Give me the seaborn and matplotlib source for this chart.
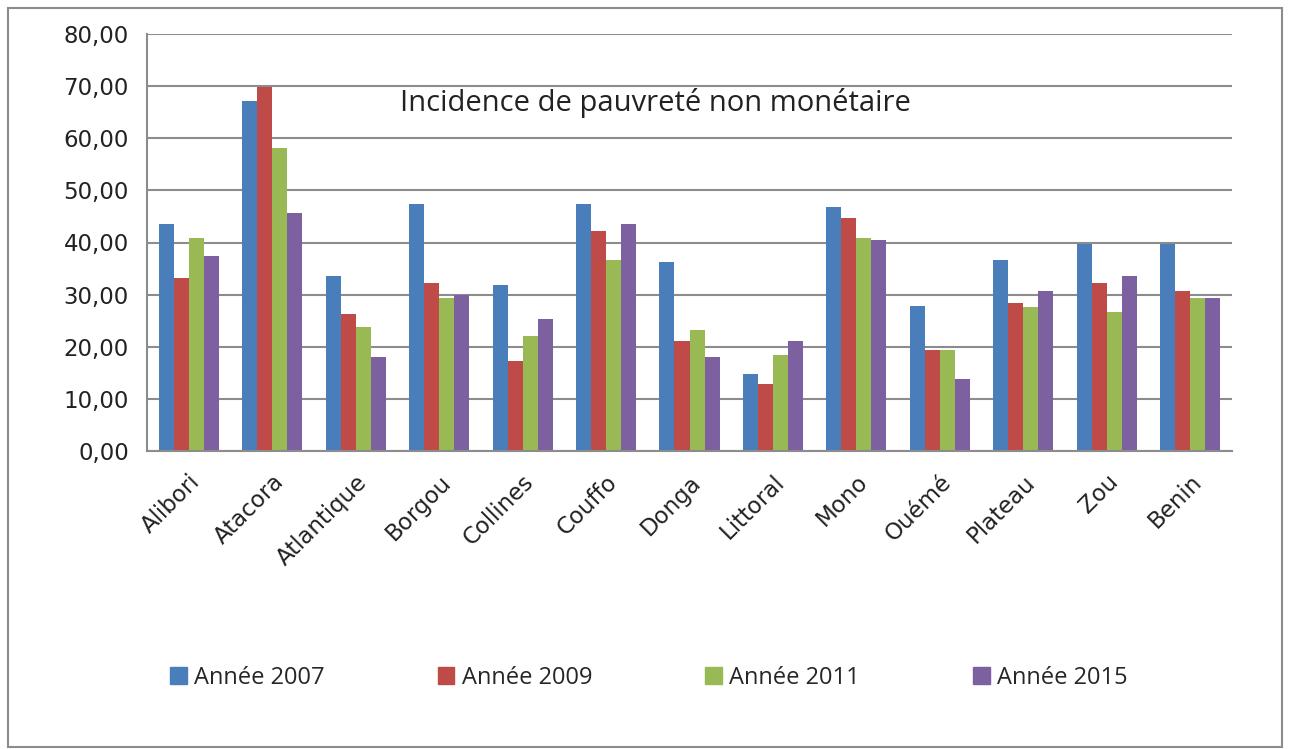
import matplotlib
matplotlib.use("Agg")
import matplotlib.pyplot as plt
import matplotlib.patches as mpatches
import seaborn as sns
import pandas as pd

# Data
regions = ["Alibori", "Atacora", "Atlantique", "Borgou", "Collines", "Couffo",
           "Donga", "Littoral", "Mono", "Ouémé", "Plateau", "Zou", "Benin"]
years = ["Année 2007", "Année 2009", "Année 2011", "Année 2015"]
v2007 = [43.5, 67.2, 33.5, 47.3, 31.9, 47.4, 36.2, 14.7, 46.9, 27.9, 36.7, 39.7, 39.7]
v2009 = [33.1, 69.9, 26.3, 32.3, 17.2, 42.2, 21.1, 12.9, 44.7, 19.4, 28.4, 32.2, 30.6]
v2011 = [40.8, 58.1, 23.7, 29.4, 22.0, 36.7, 23.2, 18.5, 40.9, 19.4, 27.6, 26.7, 29.3]
v2015 = [37.4, 45.6, 18.1, 29.9, 25.4, 43.5, 18.1, 21.1, 40.5, 13.8, 30.6, 33.6, 29.3]
colors = ["#4A7EBB", "#BE4B48", "#98B954", "#7D60A0"]

rows = []
for year, vals in zip(years, [v2007, v2009, v2011, v2015]):
    for reg, v in zip(regions, vals):
        rows.append({"region": reg, "annee": year, "valeur": v})
df = pd.DataFrame(rows)

sns.set_style("white")
plt.rcParams["font.family"] = ["DejaVu Sans"]

fig = plt.figure(figsize=(12.9, 7.49), dpi=100)
ax = fig.add_axes([147 / 1290, 1 - 451 / 749, (1232 - 147) / 1290, (451 - 34) / 749])

sns.barplot(data=df, x="region", y="valeur", hue="annee", palette=colors,
            width=0.72, saturation=1, ax=ax, legend=False, linewidth=0)

ax.set_ylim(0, 80)
ax.set_xlim(-0.5, len(regions) - 0.5)
ax.set_yticks(range(0, 81, 10))
ax.set_yticklabels([f"{t},00" for t in range(0, 81, 10)], fontsize=16.5, color="#222222")
ax.yaxis.grid(True, color="#8c8c8c", linewidth=1.5)
ax.set_axisbelow(True)
ax.set_xlabel("")
ax.set_ylabel("")

# category boundary ticks on x
ax.set_xticks([i + 0.5 for i in range(-1, len(regions))], minor=True)
ax.set_xticks(range(len(regions)))
ax.set_xticklabels(regions, rotation=45, ha="right", rotation_mode="anchor",
                   fontsize=16.5, color="#222222")
ax.tick_params(axis="x", which="major", length=0, pad=14)
ax.tick_params(axis="x", which="minor", length=7, width=1.2, color="#8c8c8c")
ax.tick_params(axis="y", length=7, width=1.2, color="#8c8c8c", pad=6)

for s in ["top", "right"]:
    ax.spines[s].set_visible(False)
for s in ["left", "bottom"]:
    ax.spines[s].set_color("#8c8c8c")
    ax.spines[s].set_linewidth(1.5)

ax.text(0.469, 0.835, "Incidence de pauvreté non monétaire", transform=ax.transAxes,
        ha="center", va="center", fontsize=21, color="#222222",
        family=["Open Sans", "DejaVu Sans"])

handles = [mpatches.Patch(color=c, label=y) for c, y in zip(colors, years)]
fig.legend(handles=handles, loc="center", bbox_to_anchor=(0.503, 1 - 678 / 749), ncol=4,
           frameon=False, handlelength=0.7, handleheight=0.7,
           handletextpad=0.3, columnspacing=4.8,
           prop={"family": ["Open Sans", "DejaVu Sans"], "size": 17})

border = mpatches.Rectangle((8 / 1290, 2 / 749), 1274 / 1290, 739 / 749, transform=fig.transFigure,
                            fill=False, edgecolor="#8c8c8c", linewidth=1.5)
fig.patches.append(border)

fig.savefig("out.png", dpi=100)
